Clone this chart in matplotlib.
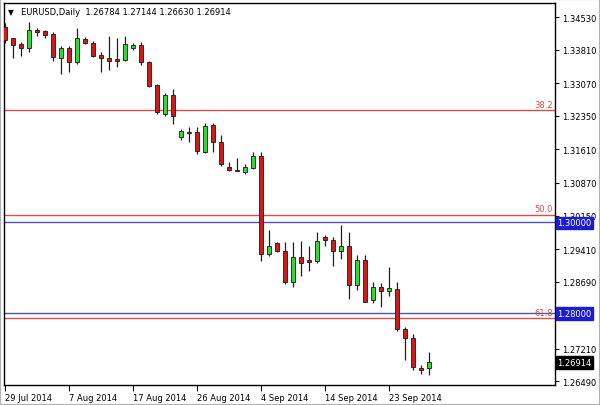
import matplotlib.pyplot as plt
from matplotlib.patches import Rectangle

# EURUSD daily bars, 29 Jul 2014 .. 29 Sep 2014 (Sunday bars included)
opens = [1.34316, 1.34062, 1.33940, 1.33845, 1.34256, 1.34221, 1.34161, 1.33638, 1.33845, 1.33536,
         1.34051, 1.33962, 1.33697, 1.33624, 1.33609, 1.33593, 1.33859, 1.33925, 1.33549, 1.33035,
         1.32394, 1.32820, 1.31879, 1.31990, 1.31990, 1.31561, 1.32151, 1.31769, 1.31230, 1.31164,
         1.31120, 1.31201, 1.31473, 1.29302, 1.29538, 1.29375, 1.28690, 1.29242, 1.29176, 1.29154,
         1.29684, 1.29618, 1.29375, 1.29485, 1.28617, 1.29176, 1.28292, 1.28566, 1.28485, 1.28529,
         1.27645, 1.27440, 1.26777, 1.26784]
highs = [1.34404, 1.34073, 1.33991, 1.34420, 1.34287, 1.34256, 1.34212, 1.33903, 1.33903, 1.34287,
         1.34088, 1.34013, 1.33757, 1.34124, 1.34066, 1.34110, 1.33962, 1.33978, 1.33571, 1.33057,
         1.32851, 1.32946, 1.32063, 1.32100, 1.32100, 1.32195, 1.32195, 1.31930, 1.31327, 1.31416,
         1.31290, 1.31561, 1.31548, 1.29839, 1.29573, 1.29560, 1.29560, 1.29596, 1.29485, 1.29781,
         1.29721, 1.29671, 1.29942, 1.29794, 1.29280, 1.29280, 1.28677, 1.28661, 1.29008, 1.28677,
         1.27683, 1.27535, 1.26850, 1.27144]
lows = [1.33962, 1.33631, 1.33669, 1.33757, 1.34124, 1.34066, 1.33558, 1.33278, 1.33328, 1.33499,
        1.33940, 1.33646, 1.33328, 1.33366, 1.33426, 1.33571, 1.33814, 1.33476, 1.32984, 1.32394,
        1.32357, 1.32173, 1.31820, 1.31769, 1.31511, 1.31526, 1.31548, 1.31252, 1.31142, 1.31128,
        1.31069, 1.31179, 1.29154, 1.29264, 1.29353, 1.28639, 1.28566, 1.28823, 1.28933, 1.29103,
        1.29485, 1.29043, 1.29191, 1.28308, 1.28513, 1.28235, 1.28219, 1.28125, 1.28367, 1.27608,
        1.26967, 1.26746, 1.26651, 1.26630]
closes = [1.34029, 1.33925, 1.33845, 1.34256, 1.34199, 1.34146, 1.33646, 1.33845, 1.33536, 1.34066,
          1.33956, 1.33682, 1.33624, 1.33571, 1.33571, 1.33940, 1.33918, 1.33536, 1.33019, 1.32432,
          1.32820, 1.32357, 1.32025, 1.31974, 1.31584, 1.32136, 1.31769, 1.31290, 1.31164, 1.31142,
          1.31217, 1.31473, 1.29302, 1.29472, 1.29375, 1.28690, 1.29242, 1.29103, 1.29132, 1.29596,
          1.29618, 1.29375, 1.29485, 1.28617, 1.29176, 1.28248, 1.28566, 1.28478, 1.28551, 1.27645,
          1.27440, 1.26799, 1.26746, 1.26914]

date_ticks = [0, 8, 16, 24, 32, 40, 48]
date_labels = ['29 Jul 2014', '7 Aug 2014', '17 Aug 2014', '26 Aug 2014',
               '4 Sep 2014', '14 Sep 2014', '23 Sep 2014']
price_ticks = [1.34530, 1.33810, 1.33070, 1.32350, 1.31610, 1.30870, 1.30150,
               1.29410, 1.28690, 1.27950, 1.27210, 1.26490]
hidden_ticks = [1.27950]  # covered by the 1.28000 marker in the terminal

fib_levels = [1.32481, 1.30168, 1.27885]
fib_names = ['38.2', '50.0', '61.8']
round_levels = [1.30000, 1.28000]

plt.rcParams['font.family'] = 'DejaVu Sans'
plt.rcParams['font.size'] = 6

fig = plt.figure(figsize=(6, 4.06), dpi=100)
ax = fig.add_axes([4 / 600, 20 / 406, 551 / 600, 382 / 406])

up = '#3cd23c'
down = '#c81e1e'
for i in range(len(opens)):
    o, h, l, c = opens[i], highs[i], lows[i], closes[i]
    ax.vlines(i, l, h, color='#202020', lw=0.9, zorder=3)
    lo = min(o, c)
    hgt = max(abs(c - o), 0.00008)
    ax.bar(i, hgt, bottom=lo, width=0.62, color=up if c >= o else down,
           edgecolor='#1a1a1a', lw=0.6, zorder=4)

for lvl, name in zip(fib_levels, fib_names):
    ax.axhline(lvl, color='#d65050', lw=1.0, zorder=2)
    ax.text(68.5, lvl + 0.0003, name, color='#d65050', ha='right', va='bottom', fontsize=6)
for lvl in round_levels:
    ax.axhline(lvl, color='#4a55b5', lw=1.0, zorder=2)

ax.set_xlim(-0.125, 68.75)
ax.set_ylim(1.26408, 1.34846)

ax.yaxis.tick_right()
ax.set_yticks(price_ticks)
ax.set_yticklabels(['' if p in hidden_ticks else '%.5f' % p for p in price_ticks])
ax.tick_params(axis='y', direction='out', length=3, width=0.8, pad=2, colors='black')

ax.set_xticks(date_ticks)
ax.set_xticklabels(date_labels, ha='left')
ax.tick_params(axis='x', direction='out', length=4, width=0.8, pad=2)
for spine in ax.spines.values():
    spine.set_color('black')
    spine.set_linewidth(1.0)

# price boxes on the right axis
boxes = [(round_levels[0], '#1c1cd0'), (round_levels[1], '#1c1cd0'), (closes[-1], 'black')]
for lvl, col in boxes:
    ax.text(1.004, lvl - 0.00012, '%.5f' % lvl, transform=ax.get_yaxis_transform(), color='white',
            ha='left', va='center', fontsize=6, zorder=10, clip_on=False,
            bbox=dict(boxstyle='square,pad=0.2', fc=col, ec=col))

ax.text(0.008, 0.978, '\u25bc', transform=ax.transAxes, fontsize=5.5, va='center', ha='left')
ax.text(0.03, 0.978, 'EURUSD,Daily  %.5f %.5f %.5f %.5f' % (opens[-1], highs[-1], lows[-1], closes[-1]),
        transform=ax.get_xaxis_transform() if False else ax.transAxes, fontsize=6,
        va='center', ha='left')

fig.patches.append(Rectangle((0, 0), 1, 1, transform=fig.transFigure, fill=False,
                             ec='#b0b0b0', lw=1.5))
fig.savefig('out.png', dpi=100)
